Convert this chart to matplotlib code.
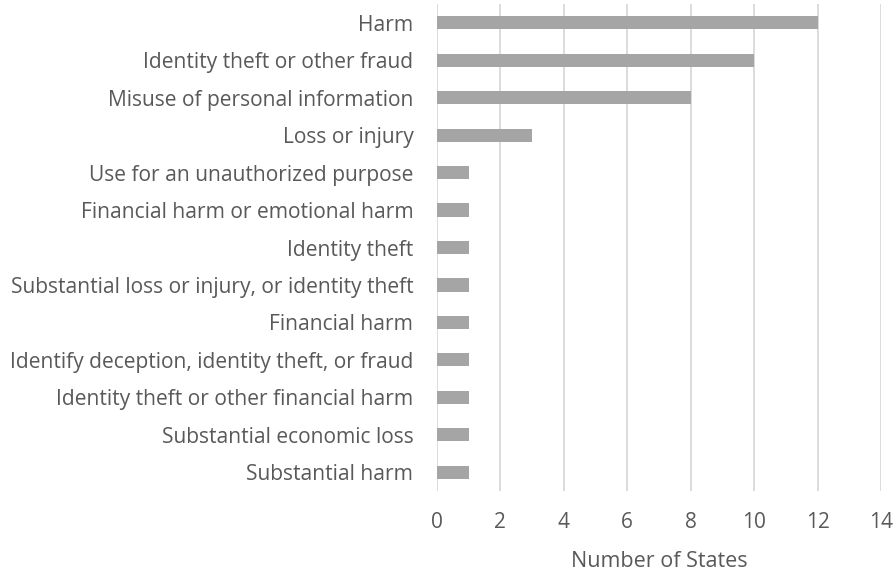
import matplotlib.pyplot as plt

categories = [
    "Harm",
    "Identity theft or other fraud",
    "Misuse of personal information",
    "Loss or injury",
    "Use for an unauthorized purpose",
    "Financial harm or emotional harm",
    "Identity theft",
    "Substantial loss or injury, or identity theft",
    "Financial harm",
    "Identify deception, identity theft, or fraud",
    "Identity theft or other financial harm",
    "Substantial economic loss",
    "Substantial harm",
]
states = [12, 10, 8, 3, 1, 1, 1, 1, 1, 1, 1, 1, 1]
xticks = [0, 2, 4, 6, 8, 10, 12, 14]

plt.rcParams['font.family'] = ['Open Sans', 'DejaVu Sans']
text_color = '#595959'

fig = plt.figure(figsize=(8.96, 5.73), dpi=100)
ax = fig.add_axes([0.4877, 0.1431, 0.4956, 0.8499])

ypos = list(range(len(categories)))
ax.barh(ypos, states, height=0.35, color='#A5A5A5', zorder=3)

ax.set_ylim(len(categories) - 0.5, -0.5)
ax.set_xlim(0, 14)
ax.set_yticks(ypos)
ax.set_yticklabels(categories, fontsize=15.1, color=text_color)
ax.set_xticks(xticks)
ax.set_xticklabels([str(t) for t in xticks], fontsize=15, color=text_color)
ax.tick_params(axis='y', length=0, pad=17)
ax.tick_params(axis='x', length=0, pad=15)

ax.grid(axis='x', color='#D9D9D9', linewidth=1.3, zorder=0)
for s in ax.spines.values():
    s.set_visible(False)

ax.set_xlabel("Number of States", fontsize=15.5, color=text_color, labelpad=13)

fig.savefig("out.png", dpi=100)
